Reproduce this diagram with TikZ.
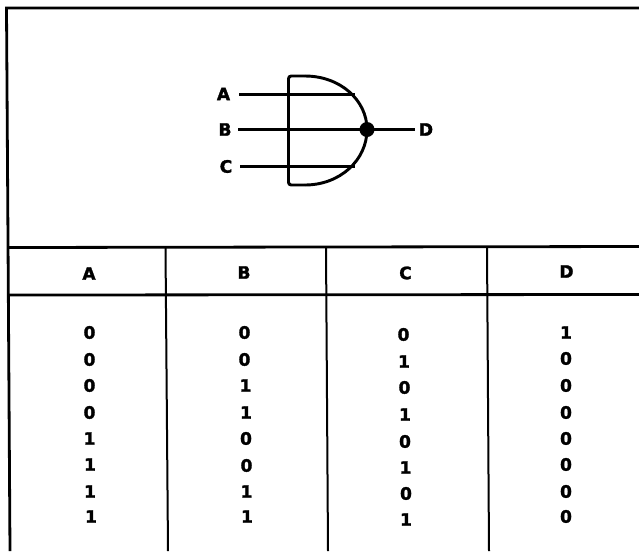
\documentclass[tikz,border=0pt]{standalone}
\usepackage{fontspec}
\setmainfont{DejaVu Sans}
\newfontfamily\heavyfont[FakeBold=1.6]{DejaVu Sans Bold}
\begin{document}
\begin{tikzpicture}[x=0.75pt,y=-0.75pt,
  rulethick/.style={line width=2.1pt,black},
  rulethin/.style={line width=1.5pt,black},
  wire/.style={line width=2pt,black},
  lab/.style={inner sep=0pt,font=\fontsize{12.8pt}{14pt}\heavyfont,text=black,yshift=0.4pt},
  dig/.style={inner sep=0pt,font=\fontsize{12.8pt}{14pt}\heavyfont,text=black,yshift=0.4pt}]
\useasboundingbox (0,0) rectangle (639,551);
\fill[white] (0,0) rectangle (639,551);
% frame
\coordinate (tl) at (6.5,8); \coordinate (tr) at (639,8);
\coordinate (bl) at (10,551);
\coordinate (h1l) at (7.5,247.5); \coordinate (h1r) at (639,246.5);
\coordinate (h2l) at (8,295); \coordinate (h2r) at (639,294.5);
\draw[rulethick] (tr) -- (tl) -- (bl);
\draw[rulethick] (h1l) -- (h1r);
\draw[rulethick] (h2l) -- (h2r);
\coordinate (v1t) at (165.5,248); \coordinate (v1b) at (168,551);
\coordinate (v2t) at (326,247); \coordinate (v2b) at (328,551);
\coordinate (v3t) at (487,247); \coordinate (v3b) at (489,551);
\draw[rulethin] (v1t) -- (v1b);
\draw[rulethin] (v2t) -- (v2b);
\draw[rulethin] (v3t) -- (v3b);
% gate
\coordinate (gatepoint) at (367,129.5);
\draw[line width=2.2pt,black,rounded corners=2pt] (305,76) -- (288.5,76) -- (288.5,185) -- (305,185);
\draw[line width=2.2pt,black] (305,76) .. controls (340,76) and (367,100) .. (gatepoint)
  .. controls (367,160) and (340,185) .. (305,185);
% labels
\node[lab] (la) at (223.5,94.5) {A};
\node[lab] (lb) at (225,130) {B};
\node[lab] (lc) at (226,167) {C};
\node[lab] (ld) at (426,130) {D};
\coordinate (ea) at (355,94.5); \coordinate (ec) at (355,166.5);
\coordinate (sa) at (239,94.5); \coordinate (sb) at (238,129.5); \coordinate (sc) at (240,166.5);
\coordinate (sd) at (415,129.5);
\fill[black] (gatepoint) circle (7.5);
\draw[wire] (sa) -- (ea);
\draw[wire] (sb) -- (gatepoint);
\draw[wire] (sc) -- (ec);
\draw[wire] (gatepoint) -- (sd);
% header
\node[lab] (ha) at (89,274) {A};
\node[lab] (hb) at (244,273) {B};
\node[lab] (hc) at (405.5,273.5) {C};
\node[lab] (hd) at (566.5,272) {D};
% rows
\foreach \n/\x/\y/\t in {
 a1/89.5/333/0,a2/89.5/360/0,a3/89.5/386/0,a4/89.5/413/0,a5/89.5/439/1,a6/90/465/1,a7/90/492/1,a8/91/517/1,
 b1/244.5/333/0,b2/244.5/360/0,b3/245.5/386/1,b4/246/413/1,b5/246/439/0,b6/246.5/466/0,b7/246.5/492/1,b8/247/517/1,
 c1/403.5/335/0,c2/404/362/1,c3/404.5/388/0,c4/405/415/1,c5/405/442/0,c6/405.5/468/1,c7/406/494/0,c8/406/520/1,
 d1/566/333/1,d2/566/359/0,d3/566/386/0,d4/566/413/0,d5/566/439/0,d6/566/465/0,d7/566/492/0,d8/566/517/0}
  \node[dig] (\n) at (\x,\y) {\t};
\end{tikzpicture}
\end{document}
